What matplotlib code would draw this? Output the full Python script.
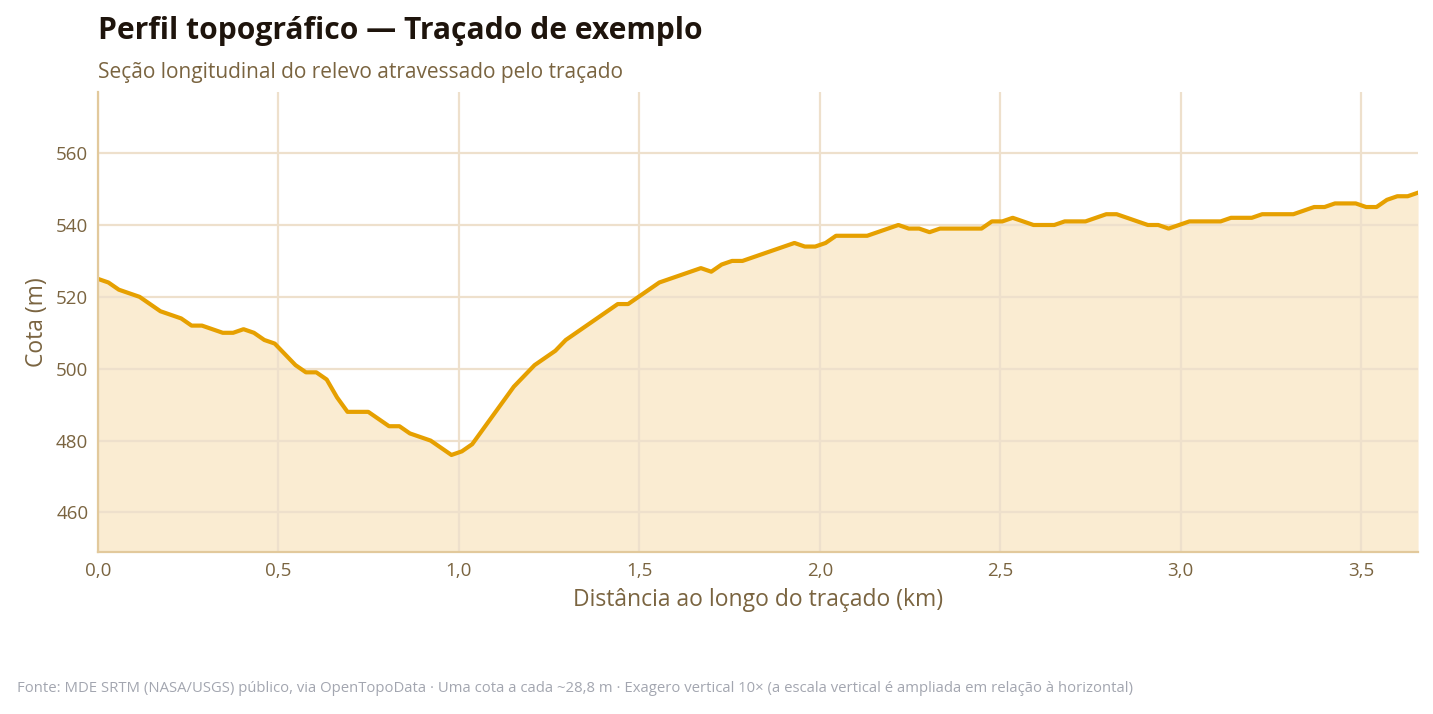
import numpy as np
import matplotlib
matplotlib.use("Agg")
import matplotlib.pyplot as plt
from matplotlib.ticker import FuncFormatter, MultipleLocator

# Elevation samples (m), one every 28.8 m
step_km = 0.0288
elevation_m = [
    525, 524, 522, 521, 520, 518, 516, 515, 514, 512,
    512, 511, 510, 510, 511, 510, 508, 507, 504, 501,
    499, 499, 497, 492, 488, 488, 488, 486, 484, 484,
    482, 481, 480, 478, 476, 477, 479, 483, 487, 491,
    495, 498, 501, 503, 505, 508, 510, 512, 514, 516,
    518, 518, 520, 522, 524, 525, 526, 527, 528, 527,
    529, 530, 530, 531, 532, 533, 534, 535, 534, 534,
    535, 537, 537, 537, 537, 538, 539, 540, 539, 539,
    538, 539, 539, 539, 539, 539, 541, 541, 542, 541,
    540, 540, 540, 541, 541, 541, 542, 543, 543, 542,
    541, 540, 540, 539, 540, 541, 541, 541, 541, 542,
    542, 542, 543, 543, 543, 543, 544, 545, 545, 546,
    546, 546, 545, 545, 547, 548, 548, 549,
]
distance_km = [i * step_km for i in range(len(elevation_m))]

title = "Perfil topográfico — Traçado de exemplo"
subtitle = "Seção longitudinal do relevo atravessado pelo traçado"
x_label = "Distância ao longo do traçado (km)"
y_label = "Cota (m)"
footer = ("Fonte: MDE SRTM (NASA/USGS) público, via OpenTopoData · Uma cota a cada ~28,8 m · "
          "Exagero vertical 10× (a escala vertical é ampliada em relação à horizontal)")

plt.rcParams['font.family'] = ['Open Sans', 'DejaVu Sans']

fig = plt.figure(figsize=(14.33, 7.14), dpi=100)
ax = fig.add_axes([0.0684, 0.2269, 0.9212, 0.6442])

line_c = "#e6a000"
fill_c = "#faecd2"
grid_c = "#eee0cc"
spine_c = "#e2c99c"
text_c = "#7a6440"

ax.fill_between(distance_km, elevation_m, 449, color=fill_c, lw=0, zorder=1)
ax.plot(distance_km, elevation_m, color=line_c, lw=3, zorder=3, solid_joinstyle='round')

ax.set_xlim(0, distance_km[-1])
ax.set_ylim(449, 577)
ax.xaxis.set_major_locator(MultipleLocator(0.5))
ax.yaxis.set_major_locator(MultipleLocator(20))
ax.xaxis.set_major_formatter(FuncFormatter(lambda v, p: f"{v:.1f}".replace(".", ",")))
ax.yaxis.set_major_formatter(FuncFormatter(lambda v, p: f"{v:.0f}"))

ax.grid(True, color=grid_c, lw=1.6, zorder=2)
ax.set_axisbelow(False)
for s in ["top", "right"]:
    ax.spines[s].set_visible(False)
for s in ["left", "bottom"]:
    ax.spines[s].set_color(spine_c)
    ax.spines[s].set_linewidth(1.6)
    ax.spines[s].set_zorder(4)
ax.tick_params(length=0, labelsize=13.5, labelcolor=text_c, pad=7)

ax.set_xlabel(x_label, fontsize=16.5, color=text_c, labelpad=6)
ax.set_ylabel(y_label, fontsize=16.5, color=text_c, labelpad=5)

fig.text(0.0684, 0.957, title, fontsize=21.6, fontweight='bold', color="#1e140c", va='center', ha='left')
fig.text(0.0684, 0.899, subtitle, fontsize=15, color=text_c, va='center', ha='left')
fig.text(0.0118, 0.036, footer, fontsize=10.75, color="#a3a6b0", va='center', ha='left')

fig.savefig("out.png", dpi=100)
